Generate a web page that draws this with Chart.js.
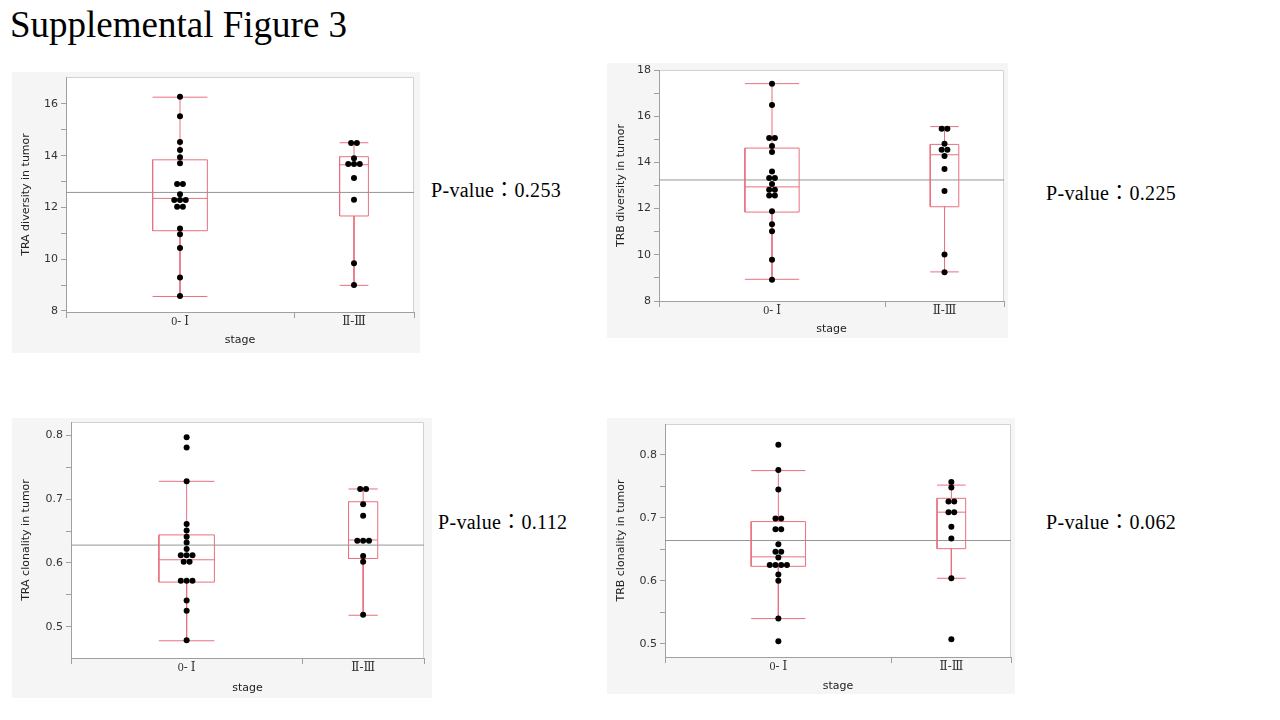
<!DOCTYPE html>
<html>
<head>
<meta charset="utf-8">
<script src="https://cdn.jsdelivr.net/npm/chart.js@4.4.1/dist/chart.umd.min.js"></script>
<style>
  body { margin: 0; width: 1280px; height: 720px; background: #fff; position: relative; overflow: hidden; }
  .fig-title { position: absolute; left: 10px; top: 6px; font: 37px/1 "Liberation Serif", "Times New Roman", serif; color: #000; white-space: nowrap; }
  .pval { position: absolute; font: 20px/1 "Liberation Serif", "Times New Roman", "Noto Sans CJK JP", serif; letter-spacing: 0.3px; color: #000; white-space: nowrap; }
  .panel { position: absolute; background: #f5f5f5; }
  .panel canvas { display: block; }
</style>
</head>
<body>
<div class="fig-title">Supplemental Figure 3</div>

<div class="panel" style="left:12px;top:72px"><canvas id="traDiv" width="408" height="281"></canvas></div>
<div class="pval" style="left:431px;top:180px">P-value：0.253</div>

<div class="panel" style="left:607px;top:63px"><canvas id="trbDiv" width="401" height="275"></canvas></div>
<div class="pval" style="left:1046px;top:183px">P-value：0.225</div>

<div class="panel" style="left:12px;top:418px"><canvas id="traClon" width="420" height="280"></canvas></div>
<div class="pval" style="left:438px;top:512px">P-value：0.112</div>

<div class="panel" style="left:607px;top:418px"><canvas id="trbClon" width="408" height="276"></canvas></div>
<div class="pval" style="left:1046px;top:512px">P-value：0.062</div>

<script>
const stages = ['0- Ⅰ', 'Ⅱ-Ⅲ'];

// box stats: lower whisker, Q1, median, Q3, upper whisker

// TRA diversity in tumor
const traDivEarly = [16.28, 15.52, 14.53, 14.22, 13.94, 13.71, 12.91, 12.91, 12.51, 12.29, 12.29, 12.29, 12.03, 12.03, 11.19, 10.96, 10.43, 9.29, 8.58];
const traDivLate = [14.49, 14.49, 13.90, 13.68, 13.68, 13.68, 13.14, 12.30, 9.84, 9.00];
const traDivBoxEarly = [8.56, 11.10, 12.35, 13.84, 16.26];
const traDivBoxLate = [8.99, 11.67, 13.65, 13.96, 14.50];
const traDivMean = 12.58;
const traDivTicks = [8, 10, 12, 14, 16];
const traDivMinor = [9, 11, 13, 15];

// TRB diversity in tumor
const trbDivEarly = [17.41, 16.48, 15.06, 15.06, 14.71, 14.45, 13.61, 13.32, 13.32, 13.06, 12.82, 12.82, 12.57, 12.57, 11.88, 11.32, 11.02, 9.79, 8.92];
const trbDivLate = [15.46, 15.46, 14.81, 14.55, 14.55, 14.28, 13.71, 12.76, 10.01, 9.24];
const trbDivBoxEarly = [8.94, 11.85, 12.94, 14.62, 17.41];
const trbDivBoxLate = [9.26, 12.08, 14.33, 14.78, 15.55];
const trbDivMean = 13.24;
const trbDivTicks = [8, 10, 12, 14, 16, 18];
const trbDivMinor = [9, 11, 13, 15, 17];

// TRA clonality in tumor
const traClonEarly = [0.797, 0.781, 0.728, 0.661, 0.651, 0.641, 0.632, 0.622, 0.612, 0.612, 0.612, 0.602, 0.602, 0.572, 0.572, 0.572, 0.541, 0.525, 0.479];
const traClonLate = [0.716, 0.716, 0.692, 0.674, 0.635, 0.635, 0.635, 0.611, 0.602, 0.519];
const traClonBoxEarly = [0.478, 0.570, 0.605, 0.644, 0.728];
const traClonBoxLate = [0.518, 0.607, 0.636, 0.696, 0.716];
const traClonMean = 0.628;
const traClonTicks = [0.5, 0.6, 0.7, 0.8];
const traClonMinor = [0.55, 0.65, 0.75];

// TRB clonality in tumor
const trbClonEarly = [0.816, 0.776, 0.745, 0.699, 0.699, 0.682, 0.682, 0.658, 0.646, 0.646, 0.637, 0.625, 0.625, 0.625, 0.625, 0.610, 0.600, 0.540, 0.504];
const trbClonLate = [0.757, 0.748, 0.726, 0.726, 0.709, 0.709, 0.686, 0.667, 0.604, 0.507];
const trbClonBoxEarly = [0.540, 0.623, 0.638, 0.694, 0.775];
const trbClonBoxLate = [0.604, 0.651, 0.709, 0.731, 0.752];
const trbClonMean = 0.664;
const trbClonTicks = [0.5, 0.6, 0.7, 0.8];
const trbClonMinor = [0.55, 0.65, 0.75];

const BOX_RED = '#e8707f';
const AXIS_GREY = '#a0a0a0';
const FRAME_GREY = '#d2d2d2';
const MEAN_GREY = '#959595';
const DOT_GAP = 0.48;   // horizontal spacing of tied dots, in x units
const BOX_FRAC = 0.12;  // box half width per observation

Chart.defaults.font.family = '"DejaVu Sans", Verdana, sans-serif';
Chart.defaults.font.size = 11;
Chart.defaults.color = '#333';

// white plot area with a light frame on top and right
const plotFrame = {
  id: 'plotFrame',
  beforeDraw(chart) {
    const { ctx, chartArea: a } = chart;
    ctx.save();
    ctx.fillStyle = '#fff';
    ctx.fillRect(a.left, a.top, a.width, a.height);
    ctx.strokeStyle = FRAME_GREY;
    ctx.lineWidth = 1;
    ctx.beginPath();
    ctx.moveTo(a.left, a.top + 0.5);
    ctx.lineTo(a.right - 0.5, a.top + 0.5);
    ctx.lineTo(a.right - 0.5, a.bottom);
    ctx.stroke();
    ctx.restore();
  }
};

// spread tied values side by side around the group centre
function swarm(values, cx) {
  const groups = {};
  values.forEach(v => { (groups[v] = groups[v] || []).push(v); });
  const pts = [];
  Object.values(groups).forEach(g => {
    g.forEach((v, i) => pts.push({ x: cx + (i - (g.length - 1) / 2) * DOT_GAP, y: v }));
  });
  return pts;
}

function boxPath(cx, hw, b) {
  const [lo, q1, med, q3, hi] = b;
  const gap = { x: cx, y: null };
  return [
    { x: cx - hw, y: q1 }, { x: cx + hw, y: q1 }, { x: cx + hw, y: q3 }, { x: cx - hw, y: q3 }, { x: cx - hw, y: q1 }, gap,
    { x: cx - hw, y: med }, { x: cx + hw, y: med }, gap,
    { x: cx, y: q3 }, { x: cx, y: hi }, gap,
    { x: cx - hw, y: hi }, { x: cx + hw, y: hi }, gap,
    { x: cx, y: q1 }, { x: cx, y: lo }, gap,
    { x: cx - hw, y: lo }, { x: cx + hw, y: lo }, gap
  ];
}

function drawPanel(id, p) {
  const n1 = p.early.length, n2 = p.late.length, total = n1 + n2;
  const centers = [n1 / 2, n1 + n2 / 2];
  const dots = swarm(p.early, centers[0]).concat(swarm(p.late, centers[1]));
  const boxes = boxPath(centers[0], n1 * BOX_FRAC, p.boxEarly).concat(boxPath(centers[1], n2 * BOX_FRAC, p.boxLate));
  const yAll = p.ticks.concat(p.minor).sort((a, b) => a - b);

  return new Chart(document.getElementById(id), {
    type: 'scatter',
    data: {
      datasets: [
        { data: dots, pointRadius: 3, pointBackgroundColor: '#000', pointBorderWidth: 0 },
        { data: boxes, showLine: true, borderColor: BOX_RED, borderWidth: 1, pointRadius: 0 },
        { data: [{ x: 0, y: p.mean }, { x: total, y: p.mean }], showLine: true, borderColor: MEAN_GREY, borderWidth: 1, pointRadius: 0 }
      ]
    },
    options: {
      responsive: false,
      animation: false,
      events: [],
      layout: { padding: { left: 0, top: p.top, right: p.right, bottom: 0 } },
      plugins: { legend: { display: false }, tooltip: { enabled: false } },
      scales: {
        x: {
          type: 'linear',
          min: 0,
          max: total,
          afterBuildTicks: s => { s.ticks = [0, centers[0], n1, centers[1], total].map(v => ({ value: v })); },
          afterFit: s => { s.height = p.xH; s.paddingLeft = 0; s.paddingRight = 0; },
          ticks: {
            autoSkip: false,
            maxRotation: 0,
            padding: -3,
            color: '#333',
            font: { family: '"Liberation Serif", "DejaVu Serif", serif', size: 12 },
            callback: (v, i) => (i === 1 ? stages[0] : i === 3 ? stages[1] : '')
          },
          grid: {
            drawOnChartArea: false,
            tickLength: 6,
            color: c => (c.index % 2 === 1 ? 'rgba(0,0,0,0)' : AXIS_GREY)
          },
          border: { color: AXIS_GREY },
          title: { display: true, text: 'stage', color: '#222', font: { size: 11 }, padding: { top: 0, bottom: p.xTitlePad } }
        },
        y: {
          min: p.min,
          max: p.max,
          afterBuildTicks: s => { s.ticks = yAll.map(v => ({ value: v })); },
          afterFit: s => { s.width = p.yW; s.paddingTop = 0; s.paddingBottom = 0; },
          ticks: {
            autoSkip: false,
            padding: 3,
            color: '#333',
            callback: v => (p.ticks.includes(v) ? v.toFixed(p.decimals) : '')
          },
          grid: { drawOnChartArea: false, tickLength: 5, color: AXIS_GREY },
          border: { color: AXIS_GREY },
          title: { display: true, text: p.label, color: '#222', font: { size: 11 }, padding: { top: 8, bottom: 0 } }
        }
      }
    },
    plugins: [plotFrame]
  });
}

drawPanel('traDiv', {
  early: traDivEarly, late: traDivLate, boxEarly: traDivBoxEarly, boxLate: traDivBoxLate, mean: traDivMean,
  ticks: traDivTicks, minor: traDivMinor, min: 7.96, max: 17.04, decimals: 0,
  label: 'TRA diversity in tumor', yW: 54, top: 5, right: 6, xH: 41, xTitlePad: 6
});
drawPanel('trbDiv', {
  early: trbDivEarly, late: trbDivLate, boxEarly: trbDivBoxEarly, boxLate: trbDivBoxLate, mean: trbDivMean,
  ticks: trbDivTicks, minor: trbDivMinor, min: 8, max: 18, decimals: 0,
  label: 'TRB diversity in tumor', yW: 52, top: 7, right: 4, xH: 37, xTitlePad: 2
});
drawPanel('traClon', {
  early: traClonEarly, late: traClonLate, boxEarly: traClonBoxEarly, boxLate: traClonBoxLate, mean: traClonMean,
  ticks: traClonTicks, minor: traClonMinor, min: 0.451, max: 0.821, decimals: 1,
  label: 'TRA clonality in tumor', yW: 59, top: 4, right: 8, xH: 40, xTitlePad: 3
});
drawPanel('trbClon', {
  early: trbClonEarly, late: trbClonLate, boxEarly: trbClonBoxEarly, boxLate: trbClonBoxLate, mean: trbClonMean,
  ticks: trbClonTicks, minor: trbClonMinor, min: 0.479, max: 0.849, decimals: 1,
  label: 'TRB clonality in tumor', yW: 58, top: 6, right: 4, xH: 37, xTitlePad: 1
});
</script>
</body>
</html>
